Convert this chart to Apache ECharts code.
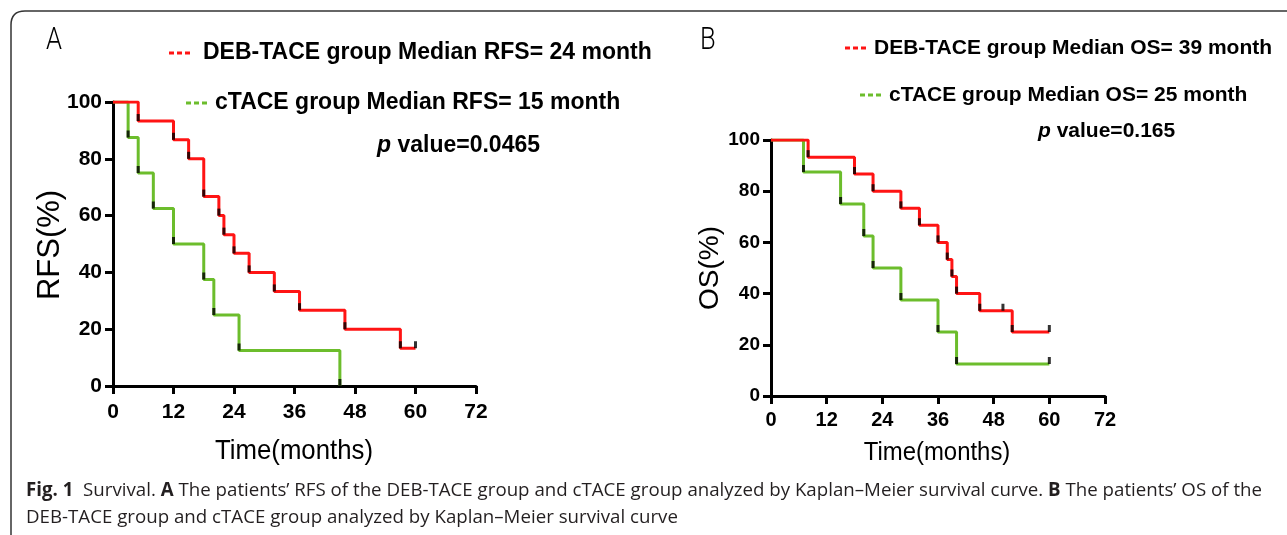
<!DOCTYPE html>
<html>
<head>
<meta charset="utf-8">
<script src="https://cdn.jsdelivr.net/npm/echarts@6/dist/echarts.min.js"></script>
<style>
html,body{margin:0;padding:0;background:#fff;}
#c{width:1287px;height:535px;}
</style>
</head>
<body>
<div id="c"></div>
<script>
// ---- Data ----
const xTicks = [0, 12, 24, 36, 48, 60, 72];
const yTicks = [0, 20, 40, 60, 80, 100];

// Panel A: RFS
const rfsDebTime = [0, 5, 12, 15, 18, 21, 22, 24, 27, 32, 37, 46, 57, 60];
const rfsDebSurv = [100, 93.3, 86.7, 80, 66.7, 60, 53.3, 46.7, 40, 33.3, 26.7, 20, 13.3, 13.3];
const rfsCTime = [0, 3, 5, 8, 12, 18, 20, 25, 45];
const rfsCSurv = [100, 87.5, 75, 62.5, 50, 37.5, 25, 12.5, 0];

// Panel B: OS
const osDebTime = [0, 8, 18, 22, 28, 32, 36, 38, 39, 40, 45, 50, 52, 60];
const osDebSurv = [100, 93.3, 86.7, 80, 73.3, 66.7, 60, 53.3, 46.7, 40, 33.3, 33.3, 25, 25];
const osCTime = [0, 7, 15, 20, 22, 28, 36, 40, 60];
const osCSurv = [100, 87.5, 75, 62.5, 50, 37.5, 25, 12.5, 12.5];

const legendA1 = 'DEB-TACE group Median RFS= 24 month';
const legendA2 = 'cTACE group Median RFS= 15 month';
const pA = '0.0465';
const legendB1 = 'DEB-TACE group Median OS= 39 month';
const legendB2 = 'cTACE group Median OS= 25 month';
const pB = '0.165';

const capSegs = [
  ['b', 'Fig. 1'], ['r', '  Survival. '], ['b', 'A'],
  ['r', ' The patients’ RFS of the DEB-TACE group and cTACE group analyzed by Kaplan–Meier survival curve. '],
  ['b', 'B'], ['r', ' The patients’ OS of the']
];
const capLine2 = 'DEB-TACE group and cTACE group analyzed by Kaplan–Meier survival curve';

const RED = '#ff1414';
const GREEN = '#6cbd2c';
const SANS = '"Liberation Sans", Arial, sans-serif';

function pairs(t, s) { return t.map((v, i) => [v, s[i]]); }
function marks(t, s) { return t.slice(1).map((v, i) => [v, s[i + 1]]); }

// caption fitting (line 1 spans the full caption width)
const capFont = '"Open Sans", sans-serif';
const CAP_FS = 19;
const cv = document.createElement('canvas').getContext('2d');
let capW = 0;
capSegs.forEach(([k, s]) => {
  cv.font = (k === 'b' ? 'bold ' : '') + CAP_FS + 'px ' + capFont;
  capW += cv.measureText(s).width;
});
const capScale = 1236 / capW;

function xAxisCfg(gi, fs, margin) {
  return {
    gridIndex: gi, type: 'value', min: 0, max: 72, interval: 12,
    axisLine: { show: true, onZero: false, lineStyle: { color: '#000', width: 3 } },
    axisTick: { show: true, length: 8, lineStyle: { color: '#000', width: 3 } },
    axisLabel: { color: '#000', fontFamily: SANS, fontWeight: 'bold', fontSize: fs, margin: margin },
    splitLine: { show: false }
  };
}
function yAxisCfg(gi, fs) {
  return {
    gridIndex: gi, type: 'value', min: 0, max: 100, interval: 20,
    axisLine: { show: true, onZero: false, lineStyle: { color: '#000', width: 3 } },
    axisTick: { show: true, length: 8, lineStyle: { color: '#000', width: 3 } },
    axisLabel: { color: '#000', fontFamily: SANS, fontWeight: 'bold', fontSize: fs, margin: 11 },
    splitLine: { show: false }
  };
}
function km(name, t, s, color, xi) {
  return {
    name: name, type: 'line', step: 'end', xAxisIndex: xi, yAxisIndex: xi,
    data: pairs(t, s), showSymbol: false, symbol: 'none',
    lineStyle: { color: color, width: 3 }, animation: false, z: 3
  };
}
function tickMarks(t, s, xi) {
  return {
    type: 'scatter', xAxisIndex: xi, yAxisIndex: xi, data: marks(t, s),
    symbol: 'rect', symbolSize: [3, 7], symbolOffset: [0, -3.5],
    itemStyle: { color: '#000' }, animation: false, z: 4, silent: true
  };
}

function txt(text, x, y, size, opts) {
  opts = opts || {};
  return {
    type: 'text', x: x, y: y, rotation: opts.rotation || 0,
    scaleX: opts.scaleX || 1, z: 10,
    style: {
      text: text, fill: opts.fill || '#000', fontSize: size,
      fontFamily: opts.family || SANS, fontWeight: opts.weight || 'normal',
      fontStyle: opts.style || 'normal',
      textAlign: opts.align || 'left', align: opts.align || 'left',
      textVerticalAlign: 'middle', verticalAlign: 'middle',
      rich: opts.rich
    }
  };
}
function dash(x, y, color) {
  return {
    type: 'line', z: 10,
    shape: { x1: x, y1: y, x2: x + 23, y2: y },
    style: { stroke: color, lineWidth: 3, lineDash: [5, 3] }
  };
}

const richP = (fs) => ({
  i: { fontStyle: 'italic', fontWeight: 'bold', fontSize: fs, fontFamily: SANS, fill: '#000' },
  n: { fontWeight: 'bold', fontSize: fs, fontFamily: SANS, fill: '#000' }
});
const richCap = {
  b: { fontWeight: 'bold', fontSize: CAP_FS, fontFamily: capFont, fill: '#231f20' },
  r: { fontSize: CAP_FS, fontFamily: capFont, fill: '#231f20' }
};

const chart = echarts.init(document.getElementById('c'), null, { renderer: 'canvas' });
chart.setOption({
  backgroundColor: '#fff',
  animation: false,
  grid: [
    { left: 113, top: 102, width: 363, height: 284 },
    { left: 771, top: 140, width: 334, height: 256 }
  ],
  xAxis: [xAxisCfg(0, 21, 16), xAxisCfg(1, 20, 14)],
  yAxis: [yAxisCfg(0, 21), yAxisCfg(1, 19)],
  series: [
    km('cTACE RFS', rfsCTime, rfsCSurv, GREEN, 0),
    km('DEB-TACE RFS', rfsDebTime, rfsDebSurv, RED, 0),
    tickMarks(rfsCTime, rfsCSurv, 0),
    tickMarks(rfsDebTime, rfsDebSurv, 0),
    km('cTACE OS', osCTime, osCSurv, GREEN, 1),
    km('DEB-TACE OS', osDebTime, osDebSurv, RED, 1),
    tickMarks(osCTime, osCSurv, 1),
    tickMarks(osDebTime, osDebSurv, 1)
  ],
  graphic: [
    { type: 'polyline', z: 1, shape: { points: [[11, 535], [11, 25]] },
      style: { stroke: '#333', lineWidth: 1.5, fill: null } },
    { type: 'bezierCurve', z: 1, shape: { x1: 11, y1: 25, x2: 25, y2: 11, cpx1: 11, cpy1: 11 },
      style: { stroke: '#333', lineWidth: 1.5, fill: null } },
    { type: 'polyline', z: 1, shape: { points: [[25, 11], [1300, 11]] },
      style: { stroke: '#333', lineWidth: 1.5, fill: null } },
    txt('A', 46, 41, 32, { family: 'Roboto', weight: 300, scaleX: 0.8 }),
    txt('B', 700, 41, 32, { family: 'Roboto', weight: 300, scaleX: 0.8 }),
    dash(169, 53, RED),
    txt(legendA1, 203, 53, 23, { weight: 'bold' }),
    dash(186, 103, GREEN),
    txt(legendA2, 215, 103, 23, { weight: 'bold' }),
    txt('{i|p} {n|value=' + pA + '}', 377, 146, 23, { rich: richP(23) }),
    dash(845, 48, RED),
    txt(legendB1, 874, 48, 21, { weight: 'bold' }),
    dash(860, 95, GREEN),
    txt(legendB2, 889, 95, 21, { weight: 'bold' }),
    txt('{i|p} {n|value=' + pB + '}', 1038, 131, 21, { rich: richP(21) }),
    txt('RFS(%)', 50, 245, 31, { rotation: Math.PI / 2, align: 'center' }),
    txt('Time(months)', 294, 451, 28, { align: 'center', scaleX: 0.92 }),
    txt('OS(%)', 710, 268, 28, { rotation: Math.PI / 2, align: 'center' }),
    txt('Time(months)', 937, 453, 26, { align: 'center', scaleX: 0.92 }),
    { type: 'text', x: 26, y: 491, scaleX: capScale, z: 10,
      style: { text: capSegs.map(([k, s]) => '{' + k + '|' + s + '}').join(''),
        rich: richCap, fontSize: CAP_FS, fontFamily: capFont, fill: '#231f20', verticalAlign: 'middle', textVerticalAlign: 'middle' } },
    { type: 'text', x: 26, y: 518, scaleX: capScale, z: 10,
      style: { text: capLine2, fontSize: CAP_FS, fontFamily: capFont, fill: '#231f20', verticalAlign: 'middle', textVerticalAlign: 'middle' } }
  ]
});
</script>
</body>
</html>
